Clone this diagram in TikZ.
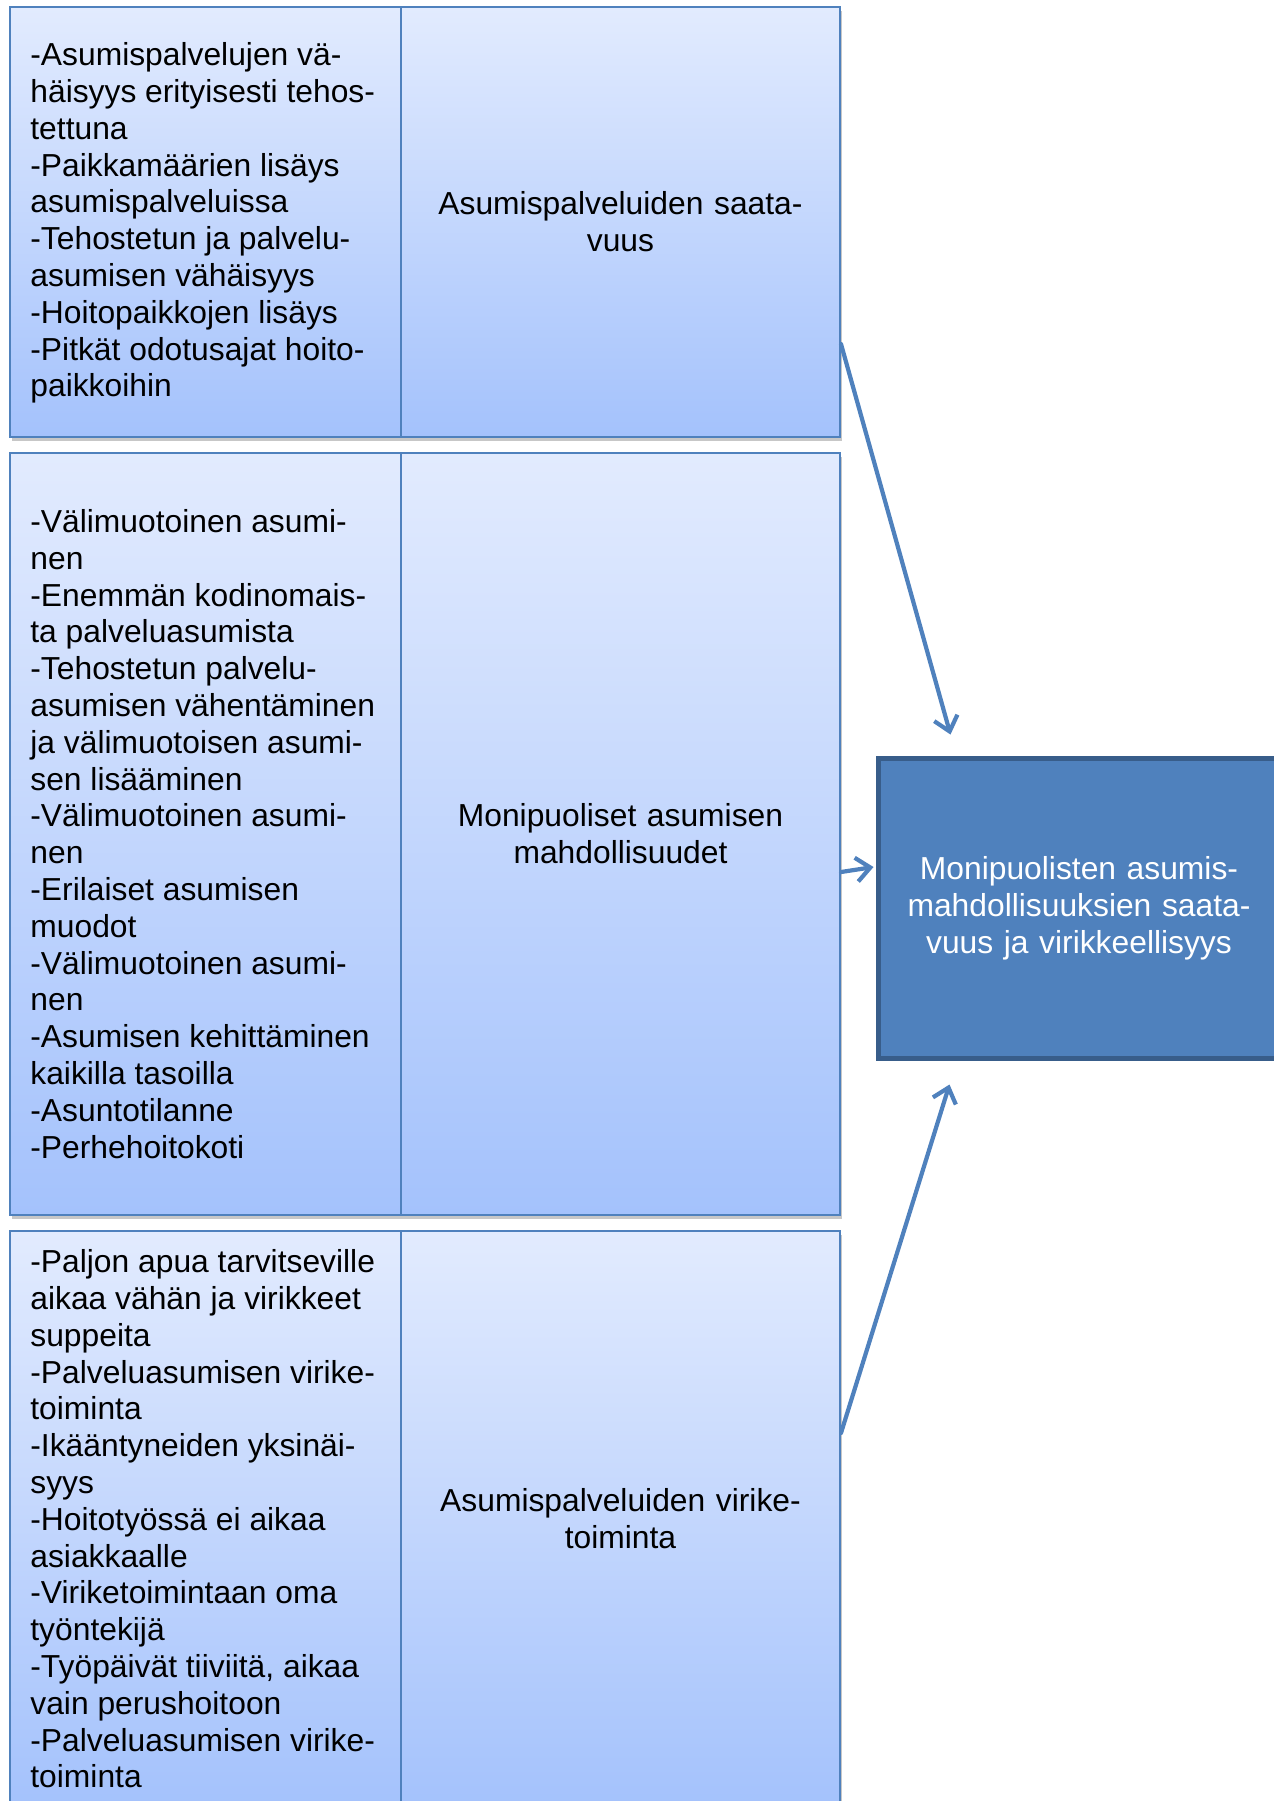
\documentclass[tikz,border=0pt]{standalone}
\usepackage{fontspec}
\setmainfont{Liberation Sans}
\usetikzlibrary{arrows.meta,calc,shadows}
\definecolor{cellTop}{RGB}{226,235,254}
\definecolor{cellBot}{RGB}{164,194,252}
\definecolor{cellLine}{RGB}{79,129,189}
\definecolor{goalFill}{RGB}{79,129,189}
\definecolor{goalLine}{RGB}{56,93,138}

\begin{document}
\begin{tikzpicture}[x=0.5pt,y=-0.5pt,
  txt/.style={font=\fontsize{15.9}{18.4}\selectfont},
  cell/.style={draw=cellLine, line width=1pt, top color=cellTop, bottom color=cellBot,
    inner sep=0pt, txt,
    drop shadow={shadow xshift=1pt, shadow yshift=-2pt, opacity=0.22, fill=black}},
  listcell/.style={cell, minimum width=195.5pt},
  listtext/.style={txt, anchor=west, inner sep=0pt, align=left},
  topiccell/.style={cell, minimum width=219.5pt, text width=200pt, align=center},
  goalbox/.style={draw=goalLine, line width=2.5pt, fill=goalFill, text=white, txt,
    inner sep=0pt, minimum width=201pt, minimum height=150pt, text width=185pt, align=center},
  link/.style={draw=cellLine, line width=2.1pt, line cap=round,
    -{Straight Barb[length=7pt,width=12pt]}}
]
\useasboundingbox (0,0) rectangle (1274,1801);
\clip (0,0) rectangle (1274,1801);
\fill[white] (0,0) rectangle (1274,1801);

% row 1: availability of housing services
\node[listcell, minimum height=215pt] (l1) at (205.5,222) {};
\node[topiccell, minimum height=215pt] (r1) at (620.5,222)
  {Asumispalveluiden saata-\\vuus};
\node[listtext] (t1) at ($(l1.west)+(21,1)$) {%
-Asumispalvelujen vä-\\
häisyys erityisesti tehos-\\
tettuna\\
-Paikkamäärien lisäys\\
asumispalveluissa\\
-Tehostetun ja palvelu-\\
asumisen vähäisyys\\
-Hoitopaikkojen lisäys\\
-Pitkät odotusajat hoito-\\
paikkoihin};

% row 2: diverse housing options
\node[listcell, minimum height=381pt] (l2) at (205.5,834) {};
\node[topiccell, minimum height=381pt] (r2) at (620.5,834)
  {Monipuoliset asumisen\\mahdollisuudet};
\node[listtext] (t2) at ($(l2.west)+(21,0)$) {%
-Välimuotoinen asumi-\\
nen\\
-Enemmän kodinomais-\\
ta palveluasumista\\
-Tehostetun palvelu-\\
asumisen vähentäminen\\
ja välimuotoisen asumi-\\
sen lisääminen\\
-Välimuotoinen asumi-\\
nen\\
-Erilaiset asumisen\\
muodot\\
-Välimuotoinen asumi-\\
nen\\
-Asumisen kehittäminen\\
kaikilla tasoilla\\
-Asuntotilanne\\
-Perhehoitokoti};

% row 3: recreational activities
\node[listcell, minimum height=288pt] (l3) at (205.5,1519) {};
\node[topiccell, minimum height=288pt] (r3) at (620.5,1519)
  {Asumispalveluiden virike-\\toiminta};
\node[listtext] (t3) at ($(l3.west)+(21,0)$) {%
-Paljon apua tarvitseville\\
aikaa vähän ja virikkeet\\
suppeita\\
-Palveluasumisen virike-\\
toiminta\\
-Ikääntyneiden yksinäi-\\
syys\\
-Hoitotyössä ei aikaa\\
asiakkaalle\\
-Viriketoimintaan oma\\
työntekijä\\
-Työpäivät tiiviitä, aikaa\\
vain perushoitoon\\
-Palveluasumisen virike-\\
toiminta};

% summary box
\node[goalbox] (goal) at (1079,908)
  {Monipuolisten asumis-\\mahdollisuuksien saata-\\vuus ja virikkeellisyys};

% arrow end points
\coordinate (s1) at ($(r1.south east)+(0,-94)$);
\coordinate (e1) at ($(goal.north west)+(75,-21)$);
\coordinate (s2) at ($(r2.east)+(0,38)$);
\coordinate (e2) at ($(goal.west)+(-2,-41)$);
\coordinate (s3) at ($(r3.north east)+(0,203)$);
\coordinate (e3) at ($(goal.south west)+(74,24)$);

\draw[link] (s1) -- (e1);
\draw[link] (s2) -- (e2);
\draw[link] (s3) -- (e3);
\end{tikzpicture}
\end{document}
